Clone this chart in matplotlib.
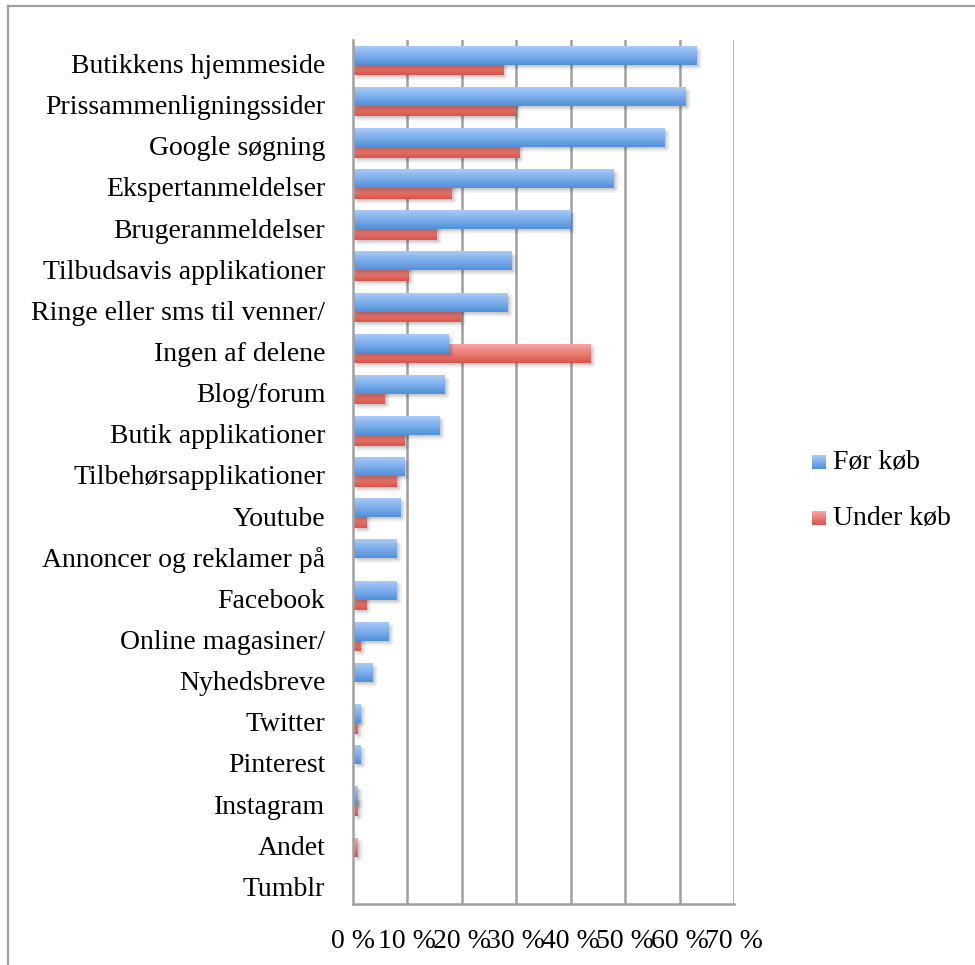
import numpy as np
import matplotlib
matplotlib.use('Agg')
import matplotlib.pyplot as plt
from matplotlib.patches import Rectangle
from matplotlib.lines import Line2D
import matplotlib.transforms as mtransforms

kanaler = ['Butikkens hjemmeside', 'Prissammenligningssider', 'Google søgning',
           'Ekspertanmeldelser', 'Brugeranmeldelser', 'Tilbudsavis applikationer',
           'Ringe eller sms til venner/', 'Ingen af delene', 'Blog/forum',
           'Butik applikationer', 'Tilbehørsapplikationer', 'Youtube',
           'Annoncer og reklamer på', 'Facebook', 'Online magasiner/',
           'Nyhedsbreve', 'Twitter', 'Pinterest', 'Instagram', 'Andet', 'Tumblr']
foer_koeb = [63.2, 61.1, 57.3, 47.9, 40.0, 29.2, 28.4, 17.6, 16.9, 15.9, 9.5,
             8.8, 8.0, 8.0, 6.6, 3.6, 1.4, 1.4, 0.9, 0.0, 0.0]
under_koeb = [27.6, 29.9, 30.5, 18.1, 15.4, 10.2, 19.8, 43.7, 5.8, 9.5, 8.0,
              2.4, 0.0, 2.4, 1.4, 0.0, 0.9, 0.0, 0.9, 0.9, 0.0]
xticks = [0, 10, 20, 30, 40, 50, 60, 70]
serier = ['Før køb', 'Under køb']

blaa = ('#a8cbfa', '#5190da')
roed = ('#f8a7a2', '#d9554b')
grid_farve = '#a0a0a0'
skrift = 'Liberation Serif'
fs = 20

fig = plt.figure(figsize=(9.75, 9.65), dpi=100)
ax = fig.add_axes([353 / 975, 1 - 904 / 965, 381 / 975, 864 / 965])


def px(dx, dy):
    return mtransforms.ScaledTranslation(dx / 100, dy / 100, fig.dpi_scale_trans)


def gradient(c_top, c_bot, n=64):
    t = np.linspace(0, 1, n)[:, None]
    a = np.array(matplotlib.colors.to_rgb(c_top))
    b = np.array(matplotlib.colors.to_rgb(c_bot))
    return (a * (1 - t) + b * t)[:, None, :]


def bar(y, w, h, farver, z):
    if w <= 0:
        return
    # soft drop shadow, built from a few faint offset layers
    for dx, dy in [(1, -1), (2, -2), (3, -3), (4, -4), (2, -5), (5, -2)]:
        ax.add_patch(Rectangle((0, y - h / 2), w, h, facecolor='black', alpha=0.035,
                               edgecolor='none', transform=ax.transData + px(dx, dy),
                               zorder=z - 0.5))
    ax.imshow(gradient(*farver), extent=(0, w, y + h / 2, y - h / 2),
              aspect='auto', interpolation='bilinear', zorder=z)


y = np.arange(len(kanaler))
h = 0.46
off = 0.128
for i in range(len(kanaler)):
    bar(y[i] + off, under_koeb[i], h, roed, 3)
for i in range(len(kanaler)):
    bar(y[i] - off, foer_koeb[i], h, blaa, 5)

ax.set_xlim(0, 70)
ax.set_ylim(len(kanaler) - 0.5, -0.5)
ax.set_xticks(xticks)
ax.set_xticklabels([f'{t} %' for t in xticks], fontsize=fs, family=skrift)
ax.set_yticks(y)
ax.set_yticklabels(kanaler, fontsize=fs, family=skrift)
ax.tick_params(axis='both', length=0)
ax.tick_params(axis='x', pad=18)
ax.tick_params(axis='y', pad=20)
for lbl in ax.get_yticklabels():
    lbl.set_transform(lbl.get_transform() + px(0, -3))
for t in xticks[1:]:
    ax.axvline(t, color=grid_farve, lw=1.8, zorder=1)
for s in ['top', 'right']:
    ax.spines[s].set_visible(False)
for s in ['left', 'bottom']:
    ax.spines[s].set_color(grid_farve)
    ax.spines[s].set_linewidth(1.8)
    ax.spines[s].set_zorder(6)

# legend
for k, (navn, farver) in enumerate(zip(serier, [blaa, roed])):
    yc = 1 - (462 + 56 * k) / 965
    lax = fig.add_axes([812 / 975, yc - 7 / 965, 14 / 975, 14 / 965])
    lax.imshow(gradient(*farver), aspect='auto', interpolation='bilinear')
    lax.axis('off')
    fig.text(833 / 975, yc, navn, fontsize=fs, family=skrift, va='center', ha='left')

# outer frame
fig.add_artist(Line2D([8 / 975, 8 / 975], [0, 1 - 6 / 965], color=grid_farve, lw=1.6,
                      transform=fig.transFigure))
fig.add_artist(Line2D([8 / 975, 1], [1 - 6 / 965, 1 - 6 / 965], color=grid_farve, lw=1.6,
                      transform=fig.transFigure))

fig.savefig('out.png', dpi=100)
